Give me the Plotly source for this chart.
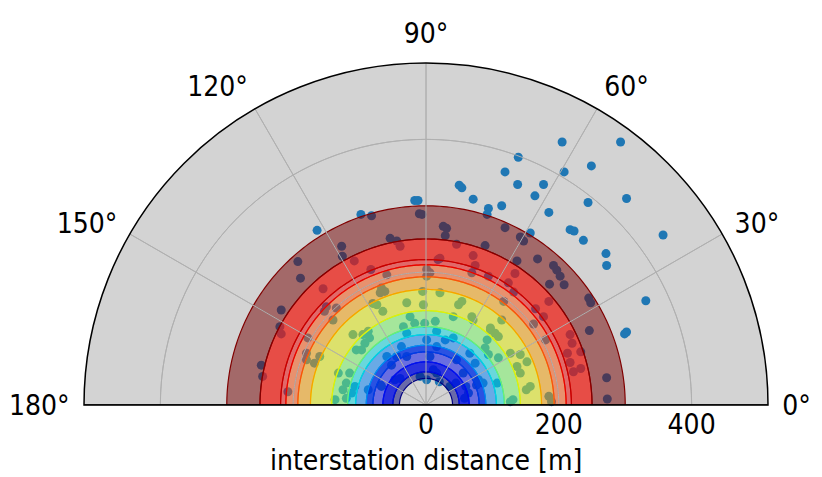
import numpy as np
import plotly.graph_objects as go

# Interstation vectors (east, north offsets in metres)
EAST = [205, 293, 139, 119, 208, 249, 50, 54, 138, 177, 71, 164, 114, 94, 92, 185, 302, 244,
        217, 223, 237, 157, 271, 272, 357, 331, 302, 299, -17, -12, -98, -82, -164,
        26, 31, 29, -6, 119, 142, 147, 89, 46, 137, 168, 192, 197, 202, 208, 186, 245, 248,
        246, 272, 273, 71, 74, 21,
        -10, -54, -44, -39, -127, -126, -193, -189, -83, -108, -155, -218, -220, -218, -248,
        -246, -208, 18,
        1, -5, 21, 54, 49, 69, 41, 97, 109, 92, 89, 94, 109, 137, 142, 152, 157, 185, -2, 29,
        41, 66, 74, 46, 56, 79, 107, 127, 16, 1, 36, 64,
        69, 94, 134, 124, 132, 165, 185, 177, 162, 180, 220, 233, 213, 217, 222, 117, 114, 97,
        104, 6, 71, 127, 142, 217, 233,
        -150, -153, -135, -140, -59, -67, -62, -69, 1, -29, -4, -74, -80, -65, -110, -95, -87,
        -85, -92, -105, -97, -178, -180, -180, -160, -168, -24, -17, -34, -29, 14, -37, -115,
        -132, -120, -107, -125, -112, -137, -120, -87, -59, -44, -52, -29, -47, -39, -67, -9,
        11, 6, 16, 16, 1,
        -68, 20, 45, 60, 76, 86, 131, 58, 151, 189]
NORTH = [396, 396, 373, 351, 351, 360, 331, 327, 332, 332, 310, 315, 300, 296, 287, 290, 311, 305,
         264, 262, 248, 259, 228, 210, 256, 157, 110, 107, 308, 308, 287, 285, 263,
         269, 266, 255, 287, 267, 253, 247, 240, 242, 217, 220, 210, 203, 194, 181, 182, 161, 154,
         112, 41, 9, 225, 210, 221,
         288, 251, 247, 239, 239, 224, 216, 191, 204, 217, 175, 143, 118, 107, 60,
         43, 20, 219,
         194, 171, 169, 156, 151, 133, 133, 116, 103, 98, 86, 76, 71, 58, 48, 65, 28, 13, 123, 98,
         101, 78, 63, 68, 48, 38, 33, 5, 48, 38, 28, 18,
         199, 194, 198, 184, 170, 145, 156, 133, 122, 98, 93, 80, 78, 64, 50, 156, 128, 113,
         108, 199, 128, 78, 76, 106, 55,
         148, 141, 146, 128, 196, 176, 171, 169, 204, 154, 151, 151, 153, 141, 106, 106, 111,
         101, 93, 83, 83, 101, 78, 68, 73, 63, 133, 123, 118, 108, 126, 88, 48,
         48, 33, 28, 23, 18, 8, 10, 23, 73, 73, 60, 73, 38, 40, 28, 43,
         53, 73, 88, 111, 98,
         30, 35, 33, 28, 30, 33, 8, 10, 23, 5]

# Shaded distance bands: inner radius, outer radius (m) and fill colour
BAND_INNER = [40, 50, 65, 80, 90, 106, 118, 142, 174, 193, 211, 219, 250]
BAND_OUTER = [50, 65, 80, 90, 106, 118, 142, 174, 193, 211, 219, 250, 300]
BAND_FILL = ["rgba(0,0,128,0.5)", "rgba(0,10,225,0.8)", "rgba(0,10,240,0.5)",
             "rgba(0,50,230,0.8)", "rgba(0,130,250,0.5)", "rgba(0,220,230,0.5)",
             "rgba(120,250,100,0.5)", "rgba(230,240,5,0.5)", "rgba(250,160,0,0.5)",
             "rgba(253,80,10,0.5)", "rgba(240,0,0,0.5)", "rgba(240,20,10,0.7)",
             "rgba(115,0,0,0.5)"]
BAND_EDGE = ["#000080", "#0010e0", "#0010f0", "#0040e0", "#0090f0", "#00d8e0",
             "#70f070", "#e8f000", "#f8a000", "#f85010", "#e80000", "#c00000", "#800000"]

R_MAX = 515
R_TICKS = [0, 200, 400]
THETA_TICKS = [0, 30, 60, 90, 120, 150, 180]
THETA_LABELS = ["0°", "30°", "60°", "90°", "120°", "150°", "180°"]

FONT = "DejaVu Sans Condensed, DejaVu Sans, sans-serif"
FS = 28
GRID = "#b0b0b0"

east = np.array(EAST, dtype=float)
north = np.array(NORTH, dtype=float)
dist = np.hypot(east, north)
azim = np.degrees(np.arctan2(north, east))

fig = go.Figure()

fig.add_trace(go.Scatterpolar(
    r=dist, theta=azim, mode="markers",
    marker=dict(size=9, color="#1f77b4"),
    showlegend=False, hoverinfo="skip"))

arc = np.linspace(0, 180, 181)
for r0, r1, fc, ec in zip(BAND_INNER, BAND_OUTER, BAND_FILL, BAND_EDGE):
    rr = np.concatenate([np.full(arc.size, r1), np.full(arc.size, r0), [r1]])
    tt = np.concatenate([arc, arc[::-1], [arc[0]]])
    fig.add_trace(go.Scatterpolar(
        r=rr, theta=tt, mode="lines", fill="toself", fillcolor=fc,
        line=dict(color=ec, width=1.2), showlegend=False, hoverinfo="skip"))

# grid drawn again above the shaded bands (as in the reference)
for t in THETA_TICKS[1:-1]:
    fig.add_trace(go.Scatterpolar(
        r=[0, R_MAX], theta=[t, t], mode="lines",
        line=dict(color=GRID, width=1), showlegend=False, hoverinfo="skip"))
for rv in R_TICKS[1:]:
    fig.add_trace(go.Scatterpolar(
        r=np.full(arc.size, rv), theta=arc, mode="lines",
        line=dict(color=GRID, width=1), showlegend=False, hoverinfo="skip"))

# frame along the base of the half disc
fig.add_trace(go.Scatterpolar(
    r=[R_MAX, 0, R_MAX], theta=[180, 0, 0], mode="lines",
    line=dict(color="black", width=1.5), cliponaxis=False,
    showlegend=False, hoverinfo="skip"))

fig.update_layout(
    width=822, height=477,
    margin=dict(l=84, r=54, t=63, b=72),
    paper_bgcolor="white",
    font=dict(family=FONT, size=FS, color="black"),
    polar=dict(
        sector=[0, 180],
        bgcolor="#d3d3d3",
        domain=dict(x=[0, 1], y=[0, 1]),
        radialaxis=dict(range=[0, R_MAX], tickvals=R_TICKS, ticktext=[str(v) for v in R_TICKS],
                        showgrid=True, gridcolor=GRID, gridwidth=1,
                        showline=False, ticks="", angle=0, side="clockwise",
                        tickfont=dict(size=FS, family=FONT)),
        angularaxis=dict(direction="counterclockwise", rotation=0,
                         tickvals=THETA_TICKS, ticktext=THETA_LABELS,
                         showgrid=True, gridcolor=GRID, gridwidth=1,
                         showline=True, linecolor="black", linewidth=1.5,
                         ticks="outside", ticklen=8, tickcolor="rgba(0,0,0,0)",
                         tickfont=dict(size=FS, family=FONT)),
    ),
    annotations=[dict(text="interstation distance [m]", xref="paper", yref="paper",
                      x=0.5, y=-0.161, xanchor="center", yanchor="middle",
                      showarrow=False, font=dict(size=FS, family=FONT))],
)

fig.write_html("out.html")
